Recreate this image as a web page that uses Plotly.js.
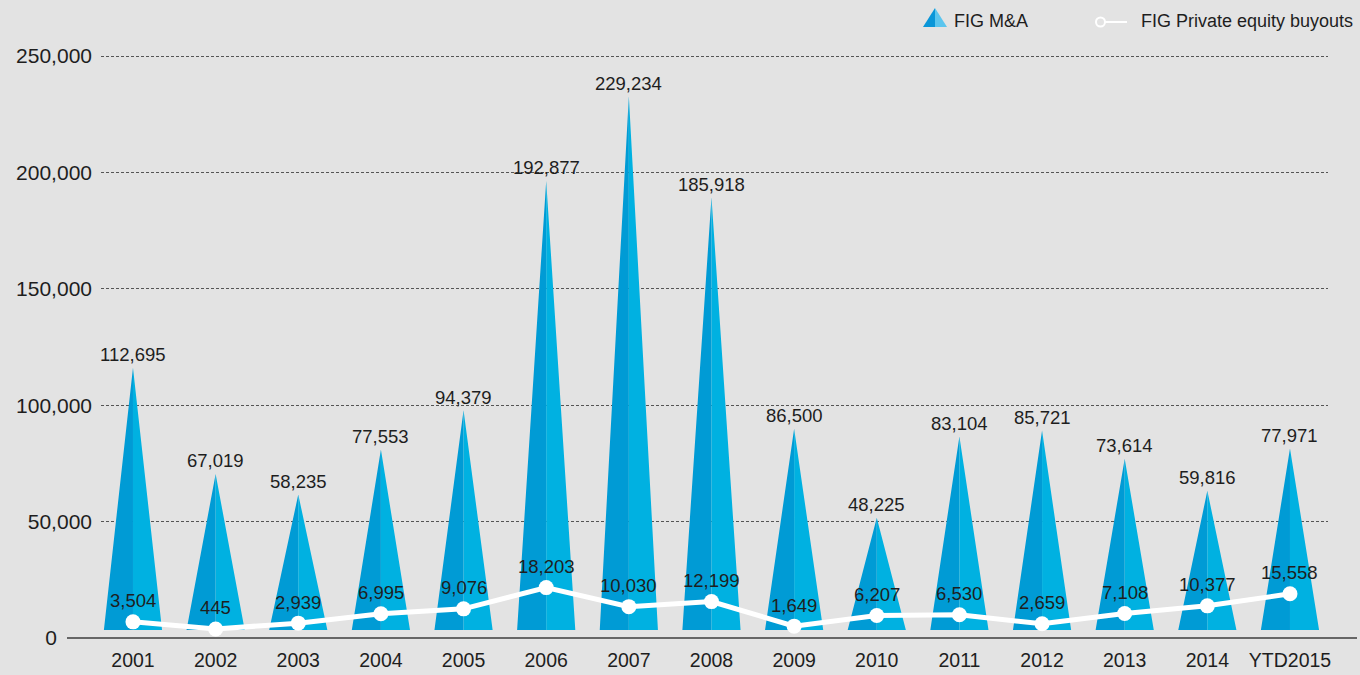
<!DOCTYPE html>
<html>
<head>
<meta charset="utf-8">
<script src="https://cdn.plot.ly/plotly-3.0.1.min.js"></script>
<style>
  html, body { margin: 0; padding: 0; background: #e3e3e3; }
  #chart { width: 1360px; height: 675px; }
</style>
</head>
<body>
<div id="chart"></div>
<script>
// ---- data ----
const years = ["2001","2002","2003","2004","2005","2006","2007","2008","2009","2010","2011","2012","2013","2014","YTD2015"];
const figMA = [112695, 67019, 58235, 77553, 94379, 192877, 229234, 185918, 86500, 48225, 83104, 85721, 73614, 59816, 77971];
const figPE = [3504, 445, 2939, 6995, 9076, 18203, 10030, 12199, 1649, 6207, 6530, 2659, 7108, 10377, 15558];
const yTicks = [0, 50000, 100000, 150000, 200000, 250000];

// ---- styling ----
const FONT = "'Liberation Sans', Arial, sans-serif";
const TXT = "#1e1e1e";
const DARK = "#009bd5";
const LIGHT = "#00b1e1";
const HALF = 0.352;         // half base width of each pyramid (x units)
const fmt = v => v.toLocaleString("en-US");

const idx = years.map((_, i) => i);

// build pyramid halves from the data
const lx = [], ly = [], rx = [], ry = [];
figMA.forEach((v, i) => {
  lx.push(i - HALF, i, i, null); ly.push(0, v, 0, null);
  rx.push(i, i, i + HALF, null); ry.push(0, v, 0, null);
});

const traces = [
  // anchor trace so the tick/grid axis (x, y) subplot exists
  { type: "scatter", x: [], y: [], yaxis: "y", mode: "markers", hoverinfo: "skip", showlegend: false },
  { type: "scatter", x: lx, y: ly, yaxis: "y2", mode: "lines", fill: "toself",
    fillcolor: DARK, line: { width: 0, color: DARK }, hoverinfo: "skip", showlegend: false, name: "FIG M&A" },
  { type: "scatter", x: rx, y: ry, yaxis: "y2", mode: "lines", fill: "toself",
    fillcolor: LIGHT, line: { width: 0, color: LIGHT }, hoverinfo: "skip", showlegend: false, name: "FIG M&A " },
  { type: "scatter", x: idx, y: figPE, yaxis: "y2", mode: "lines+markers",
    line: { color: "#ffffff", width: 5 }, marker: { color: "#ffffff", size: 15 },
    showlegend: false, name: "FIG Private equity buyouts" }
];

const annotations = [];
figMA.forEach((v, i) => {
  annotations.push({ x: i, y: v, xref: "x", yref: "y2", text: fmt(v), showarrow: false,
    yanchor: "middle", yshift: 13, font: { family: FONT, size: 18.5, color: TXT } });
});
figPE.forEach((v, i) => {
  annotations.push({ x: i, y: v, xref: "x", yref: "y2", text: fmt(v), showarrow: false,
    yanchor: "middle", yshift: 21, font: { family: FONT, size: 18.5, color: TXT } });
});
// legend texts
annotations.push({ x: 952, y: 21, xref: "paper", yref: "paper", text: "FIG M&A", showarrow: false,
  xanchor: "left", yanchor: "middle", font: { family: FONT, size: 18, color: TXT } });
annotations.push({ x: 1139, y: 21, xref: "paper", yref: "paper", text: "FIG Private equity buyouts", showarrow: false,
  xanchor: "left", yanchor: "middle", font: { family: FONT, size: 18, color: TXT } });

// pixel helpers for layout decorations
const M = { l: 101, r: 32, t: 30, b: 37 };
const W = 1360, H = 675;
const PW = W - M.l - M.r, PH = H - M.t - M.b;
const px = x => (x - M.l) / PW;
const py = y => (H - M.b - y) / PH;
annotations.forEach(a => { if (a.xref === "paper") { a.x = px(a.x); a.y = py(a.y); } });

const shapes = [
  // baseline axis line
  { type: "line", xref: "paper", yref: "paper", x0: px(67), x1: px(1357), y0: 0, y1: 0,
    line: { color: "#666666", width: 2 } },
  // legend: pyramid icon
  { type: "path", xref: "paper", yref: "paper",
    path: `M ${px(923)} ${py(27)} L ${px(935)} ${py(8)} L ${px(935)} ${py(27)} Z`,
    fillcolor: "#0a96d8", line: { width: 0 } },
  { type: "path", xref: "paper", yref: "paper",
    path: `M ${px(935)} ${py(27)} L ${px(935)} ${py(8)} L ${px(947)} ${py(27)} Z`,
    fillcolor: "#5bc5ee", line: { width: 0 } },
  // legend: line icon
  { type: "line", xref: "paper", yref: "paper", x0: px(1104), x1: px(1127), y0: py(22), y1: py(22),
    line: { color: "#ffffff", width: 2 } },
  { type: "circle", xref: "paper", yref: "paper", x0: px(1096), x1: px(1105), y0: py(17.5), y1: py(26.5),
    line: { color: "#ffffff", width: 2 }, fillcolor: "rgba(0,0,0,0)" }
];

const SCALE = 0.002328; // px per unit
const yTop = PH / SCALE;
const OFF = 8 / SCALE;

// zero label sits left of the baseline start, so pad it with no-break spaces
const yTickText = yTicks.map(v => v === 0 ? "0" + "\u00a0".repeat(6) : fmt(v));

const layout = {
  width: W, height: H,
  margin: M,
  paper_bgcolor: "#e3e3e3",
  plot_bgcolor: "#e3e3e3",
  showlegend: false,
  font: { family: FONT, color: TXT },
  xaxis: {
    range: [-0.387, 14.46], tickmode: "array", tickvals: idx, ticktext: years,
    showgrid: false, zeroline: false, showline: false, ticks: "",
    tickfont: { family: FONT, size: 19.5, color: TXT }, ticklabelstandoff: 8, fixedrange: true
  },
  yaxis: {
    range: [0, yTop], tickmode: "array", tickvals: yTicks,
    ticktext: yTickText,
    showgrid: true, gridcolor: "#555555", gridwidth: 1, griddash: "3px,2px",
    zeroline: false, showline: false, ticks: "",
    tickfont: { family: FONT, size: 21, color: TXT }, ticklabelstandoff: 8, fixedrange: true
  },
  yaxis2: {
    overlaying: "y", range: [-OFF, yTop - OFF], visible: false, fixedrange: true
  },
  annotations: annotations,
  shapes: shapes
};

Plotly.newPlot("chart", traces, layout, { staticPlot: true, displayModeBar: false });
</script>
</body>
</html>
